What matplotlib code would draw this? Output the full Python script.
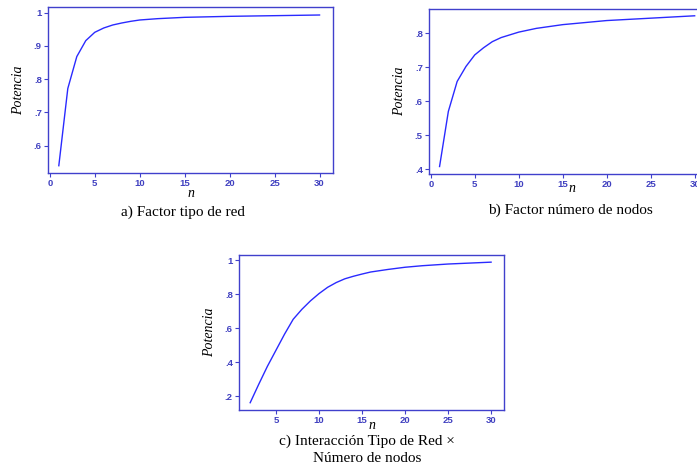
import matplotlib
matplotlib.use("Agg")
import matplotlib.pyplot as plt
from matplotlib.ticker import FuncFormatter

# a) Factor tipo de red
n_a = [1, 2, 3, 4, 5, 6, 7, 8, 9, 10, 12, 15, 20, 25, 30]
pot_a = [0.54, 0.772, 0.868, 0.916, 0.941, 0.954, 0.963, 0.969, 0.974, 0.978,
         0.982, 0.986, 0.989, 0.991, 0.993]

# b) Factor numero de nodos
n_b = [1, 2, 3, 4, 5, 6, 7, 8, 10, 12, 15, 20, 25, 30]
pot_b = [0.408, 0.57, 0.658, 0.702, 0.736, 0.757, 0.775, 0.787, 0.803, 0.814,
         0.825, 0.837, 0.844, 0.851]

# c) Interaccion
n_c = [2, 3, 4, 5, 6, 7, 8, 9, 10, 11, 12, 13, 14, 15, 16, 18, 20, 22, 25, 30]
pot_c = [0.161, 0.27, 0.375, 0.47, 0.565, 0.652, 0.71, 0.76, 0.803, 0.84,
         0.868, 0.89, 0.905, 0.918, 0.93, 0.945, 0.958, 0.967, 0.977, 0.988]

LINE = "#2a2aff"
SPINE = "#4040cc"
TICKC = "#4040c0"


def fmt(v, pos):
    if abs(v - 1) < 1e-9:
        return "1"
    return ("%.1f" % v).lstrip("0")


def style(ax, xt, yt, xlim, ylim):
    ax.set_xlim(*xlim)
    ax.set_ylim(*ylim)
    ax.set_xticks(xt)
    ax.set_yticks(yt)
    ax.yaxis.set_major_formatter(FuncFormatter(fmt))
    for s in ax.spines.values():
        s.set_color(SPINE)
        s.set_linewidth(1.0)
    ax.tick_params(colors=SPINE, labelcolor=TICKC, labelsize=6.8, length=3,
                   width=0.8, pad=1.5)
    for lab in ax.get_xticklabels() + ax.get_yticklabels():
        lab.set_fontfamily("Liberation Sans")
        lab.set_fontweight("bold")
    ax.set_ylabel("Potencia", family="Liberation Serif", style="italic",
                  fontsize=10, labelpad=6)


fig = plt.figure(figsize=(6.97, 4.68), dpi=100)

ax1 = fig.add_axes([0.0689, 0.6303, 0.4089, 0.3547])
ax1.plot(n_a, pot_a, color=LINE, lw=1.0)
style(ax1, [0, 5, 10, 15, 20, 25, 30], [0.6, 0.7, 0.8, 0.9, 1.0],
      (-0.2, 31.5), (0.518, 1.017))
ax1.set_xlabel("n", family="Liberation Serif", style="italic", fontsize=10,
               labelpad=-1)

ax2 = fig.add_axes([0.6155, 0.6282, 0.4089, 0.3526])
ax2.plot(n_b, pot_b, color=LINE, lw=1.0)
style(ax2, [0, 5, 10, 15, 20, 25, 30], [0.4, 0.5, 0.6, 0.7, 0.8],
      (-0.2, 32.2), (0.386, 0.871))
ax2.set_xlabel("n", family="Liberation Serif", style="italic", fontsize=10,
               labelpad=-5)

ax3 = fig.add_axes([0.3429, 0.1239, 0.3802, 0.3312])
ax3.plot(n_c, pot_c, color=LINE, lw=1.0)
style(ax3, [5, 10, 15, 20, 25, 30], [0.2, 0.4, 0.6, 0.8, 1.0],
      (0.7, 31.5), (0.118, 1.03))
ax3.set_xlabel("n", family="Liberation Serif", style="italic", fontsize=10,
               labelpad=-4.5)

fig.text(183 / 697, 1 - 212 / 468, "a) Factor tipo de red",
         family="Liberation Serif", fontsize=11, ha="center", va="center")
fig.text(570 / 697, 1 - 210 / 468, "b) Factor número de nodos",
         family="Liberation Serif", fontsize=11, ha="center", va="center")
fig.text(367 / 697, 1 - 441 / 468, "c) Interacción Tipo de Red ×",
         family="Liberation Serif", fontsize=11, ha="center", va="center")
fig.text(367 / 697, 1 - 458 / 468, "Número de nodos",
         family="Liberation Serif", fontsize=11, ha="center", va="center")

fig.savefig("out.png", dpi=100)
